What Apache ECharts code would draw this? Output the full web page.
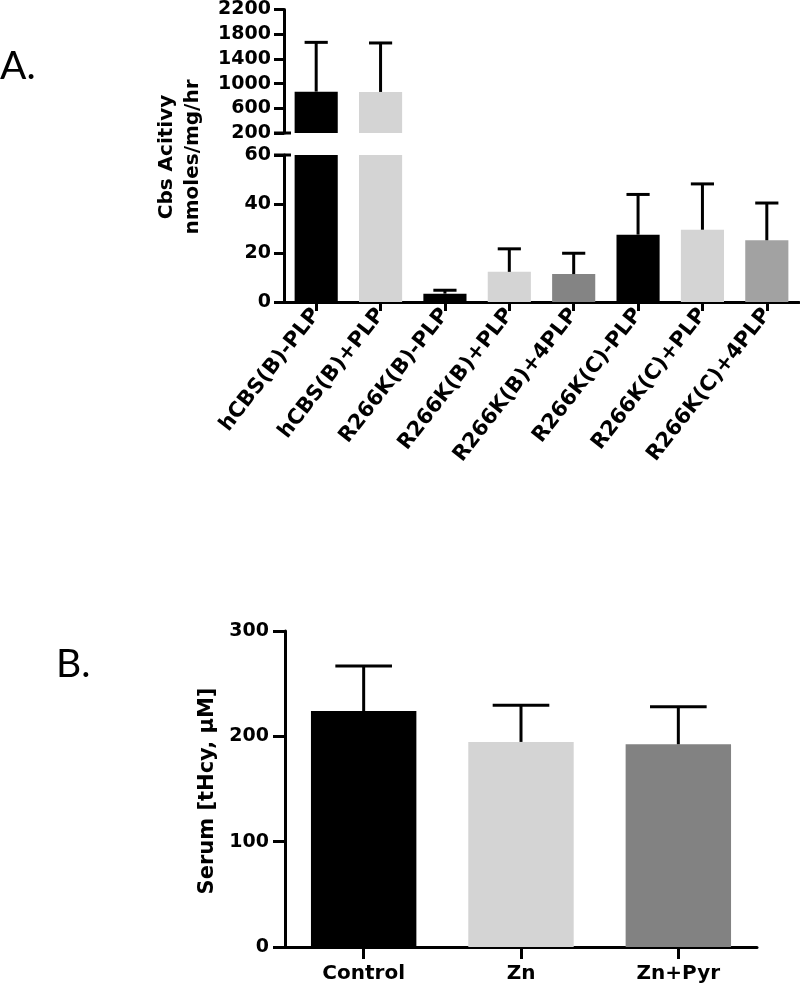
<!DOCTYPE html>
<html>
<head>
<meta charset="utf-8">
<script src="https://cdn.jsdelivr.net/npm/echarts@6/dist/echarts.min.js"></script>
<style>
html,body{margin:0;padding:0;background:#fff;}
#chart{width:800px;height:988px;}
</style>
</head>
<body>
<div id="chart"></div>
<script>
// ---- Data (panel A) ----
const categoriesA = ['hCBS(B)-PLP','hCBS(B)+PLP','R266K(B)-PLP','R266K(B)+PLP','R266K(B)+4PLP','R266K(C)-PLP','R266K(C)+PLP','R266K(C)+4PLP'];
const meansA = [870, 865, 3.4, 12.3, 11.4, 27.5, 29.5, 25.2];
const errorsA = [798, 793, 1.4, 9.4, 8.5, 16.4, 18.7, 15.2];
const upperTicksA = [200, 600, 1000, 1400, 1800, 2200];
const lowerTicksA = [0, 20, 40, 60];
// ---- Data (panel B) ----
const categoriesB = ['Control', 'Zn', 'Zn+Pyr'];
const meansB = [224, 194.7, 192.5];
const errorsB = [42.8, 34.8, 35.5];
const ticksB = [0, 100, 200, 300];

// ---- Styles ----
const colorsA = ['#000000','#d4d4d4','#000000','#d4d4d4','#848484','#000000','#d4d4d4','#a2a2a2'];
const colorsB = ['#000000','#d4d4d4','#828282'];
const FONT = 'DejaVu Sans';

const chart = echarts.init(document.getElementById('chart'));

function barData(vals, cols){
  return vals.map((v,i)=>({value:v, itemStyle:{color:cols[i]}}));
}
function errData(means, errs){
  return means.map((m,i)=>[i, m, errs[i]]);
}
function errRender(yMin, yMax){
  return function(params, api){
    const idx = api.value(0), m = api.value(1), e = api.value(2);
    if (m >= yMax || m + e <= yMin) return null;
    const band = api.size([1,0])[0];
    const half = band*0.18;
    const base = api.coord([idx, Math.max(m, yMin)]);
    const top = api.coord([idx, Math.min(m+e, yMax)]);
    const style = {stroke:'#000', lineWidth:3, fill:null};
    return {type:'group', children:[
      {type:'line', shape:{x1:base[0], y1:base[1], x2:top[0], y2:top[1]}, style:style},
      {type:'line', shape:{x1:top[0]-half, y1:top[1], x2:top[0]+half, y2:top[1]}, style:style}
    ]};
  };
}
function breakRender(params, api){
  const cs = params.coordSys;
  const p = api.coord([0, api.value(1)]);
  return {type:'line', shape:{x1:cs.x-10, y1:p[1], x2:cs.x+7, y2:p[1]}, style:{stroke:'#000', lineWidth:3}};
}

const axisLineStyle = {show:true, lineStyle:{color:'#000', width:3}};
const plain = v => String(v);
const yLabel = {color:'#000', fontFamily:FONT, fontWeight:'bold', fontSize:19, margin:13, formatter:plain};

const option = {
  animation:false,
  backgroundColor:'#fff',
  grid:[
    {left:284, top:9, width:515, height:124},
    {left:284, top:155, width:515, height:147},
    {left:285, top:631, width:472, height:316}
  ],
  xAxis:[
    {type:'category', gridIndex:0, data:categoriesA, show:false},
    {type:'category', gridIndex:1, data:categoriesA,
      axisLine:axisLineStyle, axisTick:{show:true, alignWithLabel:true, length:9, lineStyle:{color:'#000', width:3}},
      axisLabel:{rotate:52, margin:9, color:'#000', fontFamily:FONT, fontWeight:'bold', fontSize:21, interval:0}},
    {type:'category', gridIndex:2, data:categoriesB,
      axisLine:axisLineStyle, axisTick:{show:true, alignWithLabel:true, length:12, lineStyle:{color:'#000', width:3}},
      axisLabel:{margin:17, color:'#000', fontFamily:FONT, fontWeight:'bold', fontSize:20, interval:0}}
  ],
  yAxis:[
    {type:'value', gridIndex:0, min:upperTicksA[0], max:upperTicksA[upperTicksA.length-1], interval:upperTicksA[1]-upperTicksA[0],
      axisLine:axisLineStyle, axisTick:{show:true, length:10, lineStyle:{color:'#000', width:3}},
      splitLine:{show:false}, axisLabel:yLabel},
    {type:'value', gridIndex:1, min:lowerTicksA[0], max:lowerTicksA[lowerTicksA.length-1], interval:lowerTicksA[1]-lowerTicksA[0],
      axisLine:axisLineStyle, axisTick:{show:true, length:10, lineStyle:{color:'#000', width:3}},
      splitLine:{show:false}, axisLabel:yLabel},
    {type:'value', gridIndex:2, min:ticksB[0], max:ticksB[ticksB.length-1], interval:ticksB[1]-ticksB[0],
      axisLine:axisLineStyle, axisTick:{show:true, length:12, lineStyle:{color:'#000', width:3}},
      splitLine:{show:false}, axisLabel:Object.assign({}, yLabel, {margin:16})}
  ],
  series:[
    {type:'bar', xAxisIndex:0, yAxisIndex:0, data:barData(meansA, colorsA), barCategoryGap:'33%', clip:true},
    {type:'bar', xAxisIndex:1, yAxisIndex:1, data:barData(meansA, colorsA), barCategoryGap:'33%', clip:true},
    {type:'bar', xAxisIndex:2, yAxisIndex:2, data:barData(meansB, colorsB), barCategoryGap:'33%', clip:true},
    {type:'custom', xAxisIndex:0, yAxisIndex:0, data:errData(meansA, errorsA), renderItem:errRender(upperTicksA[0], upperTicksA[upperTicksA.length-1]), z:5},
    {type:'custom', xAxisIndex:1, yAxisIndex:1, data:errData(meansA, errorsA), renderItem:errRender(lowerTicksA[0], lowerTicksA[lowerTicksA.length-1]), z:5},
    {type:'custom', xAxisIndex:2, yAxisIndex:2, data:errData(meansB, errorsB), renderItem:errRender(ticksB[0], ticksB[ticksB.length-1]), z:5},
    {type:'custom', xAxisIndex:0, yAxisIndex:0, data:[[0, upperTicksA[0]]], renderItem:breakRender, z:6, silent:true},
    {type:'custom', xAxisIndex:1, yAxisIndex:1, data:[[0, lowerTicksA[lowerTicksA.length-1]]], renderItem:breakRender, z:6, silent:true}
  ],
  graphic:[
    {type:'text', x:0, y:66, style:{text:'A.', fontFamily:'Lato', fontSize:39, fill:'#000', textAlign:'left', textVerticalAlign:'middle'}},
    {type:'text', x:56, y:664, style:{text:'B.', fontFamily:'Lato', fontSize:39, fill:'#000', textAlign:'left', textVerticalAlign:'middle'}},
    {type:'text', x:180, y:157, rotation:Math.PI/2, style:{text:'Cbs Acitivy\nnmoles/mg/hr', fontFamily:FONT, fontWeight:'bold', fontSize:20, lineHeight:26, fill:'#000', textAlign:'center', textVerticalAlign:'middle'}},
    {type:'text', x:208, y:791, rotation:Math.PI/2, style:{text:'Serum [tHcy, μM]', fontFamily:FONT, fontWeight:'bold', fontSize:21, fill:'#000', textAlign:'center', textVerticalAlign:'middle'}}
  ]
};
chart.setOption(option);
</script>
</body>
</html>
